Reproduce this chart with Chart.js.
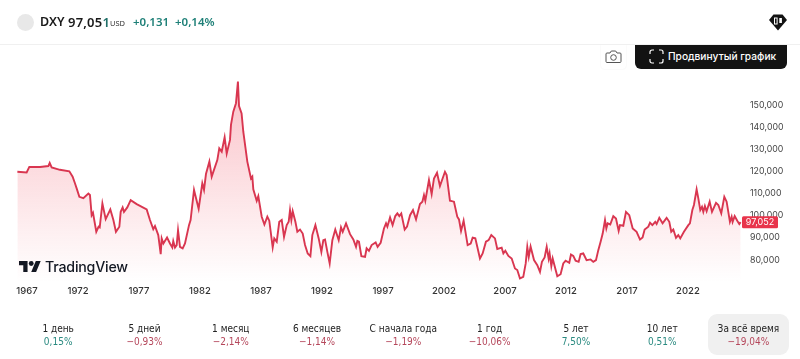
<!DOCTYPE html>
<html lang="ru"><head><meta charset="utf-8">
<script src="https://cdn.jsdelivr.net/npm/chart.js@4"></script>
<style>
html,body{margin:0;padding:0;background:#fff;width:800px;height:359px;overflow:hidden;font-family:"Noto Sans","DejaVu Sans",sans-serif;}
#wrap{position:relative;width:800px;height:359px;}
canvas{position:absolute;left:0;top:0;}
.abs{position:absolute;white-space:nowrap;}
#divider{left:0;top:44px;width:800px;height:1px;background:#f0f0f0;}
#circle{left:17px;top:14px;width:17px;height:17px;border-radius:50%;background:#e8e8e8;}
#sym{left:40px;top:13px;font-size:12.5px;font-weight:600;color:#1a1a1a;}
#price{left:68px;top:13px;font-size:13px;font-weight:600;color:#1a1a1a;letter-spacing:.2px;}
#price b{color:#1f6f68;font-weight:600;}
#cur{left:110px;top:18px;font-size:7.5px;color:#333;}
#chg{left:133px;top:14px;font-size:11.5px;font-weight:600;color:#1f8078;}
#chgp{left:175px;top:14px;font-size:11.5px;font-weight:600;color:#1f8078;}
#btn{left:635px;top:45px;width:152px;height:24px;background:#131313;border-radius:0 0 6px 6px;color:#fff;font:500 10.2px Inter,sans-serif;line-height:22px;}
#btn span{position:absolute;left:33px;}
#cam{left:601px;top:45px;width:25px;height:24px;border-radius:0 0 4px 4px;box-shadow:0 0 2px #eee;}
#tv{left:45px;top:258px;font:500 14.2px Inter,sans-serif;color:#131722;letter-spacing:-.2px;}
#stats{position:absolute;left:15px;top:314px;display:flex;}
.st{width:86.3px;height:41px;text-align:center;font-family:"DejaVu Sans Condensed","DejaVu Sans",sans-serif;font-stretch:condensed;font-size:10px;line-height:12px;color:#222;box-sizing:border-box;padding-top:9px;white-space:nowrap;}
.st div{margin-top:0.5px;}
.st.sel{background:#f0f0f0;border-radius:9px;width:81px;margin-left:2.5px;}
</style></head><body>
<div id="wrap">
<canvas id="c" width="800" height="359"></canvas>
<div class="abs" id="divider"></div>
<div class="abs" id="circle"></div>
<div class="abs" id="sym">DXY</div>
<div class="abs" id="price">97,05<b>1</b></div>
<div class="abs" id="cur">USD</div>
<div class="abs" id="chg">+0,131</div>
<div class="abs" id="chgp">+0,14%</div>
<svg class="abs" style="left:769px;top:14px" width="18" height="17" viewBox="0 0 18 17"><path d="M4.5 0.5H13.5L18 6 9 16.5 0 6Z" fill="#131313"/><rect x="5.5" y="4" width="2.6" height="6" fill="none" stroke="#fff" stroke-width="1"/><rect x="10.3" y="4" width="2.6" height="5" fill="#fff"/></svg>
<div class="abs" id="cam"><svg width="25" height="24" viewBox="0 0 25 24"><path d="M6 8h3l1.3-2h4.4L16 8h3a1 1 0 0 1 1 1v7.500a1 1 0 0 1-1 1H6a1 1 0 0 1-1-1V9a1 1 0 0 1 1-1z" fill="none" stroke="#555" stroke-width="1"/><circle cx="12.500" cy="12.500" r="2.800" fill="none" stroke="#555"/></svg></div>
<div class="abs" id="btn"><svg style="position:absolute;left:14px;top:4px" width="15" height="15" viewBox="0 0 15 15"><path d="M1 5V3a2 2 0 0 1 2-2h2M10 1h2a2 2 0 0 1 2 2v2M14 10v2a2 2 0 0 1-2 2h-2M5 14H3a2 2 0 0 1-2-2v-2" fill="none" stroke="#fff" stroke-width="1.200"/></svg><span>Продвинутый график</span></div>
<svg class="abs" style="left:19px;top:261px" width="22" height="11" viewBox="0 4 36 18"><path d="M14 22H7V11H0V4h14v18zM28 22h-8l7.500-18h8L28 22z" fill="#131722"/><circle cx="20" cy="8" r="4" fill="#131722"/></svg>
<div class="abs" id="tv">TradingView</div>
<div id="stats"></div>
</div>
<script>
const years=[1967.03,1967.79,1968.01,1968.89,1969.57,1969.68,1969.84,1970.52,1971.29,1971.56,1971.75,1971.89,1972.11,1972.44,1972.85,1972.98,1973.12,1973.23,1973.5,1973.69,1973.78,1974,1974.27,1974.65,1974.9,1975.11,1975.39,1975.5,1975.66,1975.77,1976.04,1976.32,1976.81,1977.63,1977.9,1978.17,1978.31,1978.58,1978.78,1978.86,1979,1979.3,1979.54,1979.73,1979.81,1979.95,1980.09,1980.2,1980.36,1980.58,1980.77,1981.1,1981.23,1981.51,1981.89,1982.19,1982.33,1982.49,1982.77,1982.96,1983.42,1983.58,1983.78,1984.02,1984.19,1984.46,1984.54,1984.73,1984.95,1985.11,1985.2,1985.41,1985.55,1985.88,1986.18,1986.29,1986.37,1986.65,1986.78,1987.06,1987.28,1987.52,1987.68,1987.96,1988.09,1988.29,1988.5,1988.7,1988.89,1989.11,1989.27,1989.38,1989.49,1989.6,1989.82,1989.98,1990.2,1990.42,1990.61,1990.83,1991.05,1991.21,1991.46,1991.73,1991.95,1992.11,1992.25,1992.44,1992.63,1992.85,1993.09,1993.37,1993.56,1993.7,1993.97,1994.3,1994.57,1994.79,1994.9,1995.03,1995.23,1995.53,1995.66,1995.85,1996.07,1996.4,1996.56,1996.81,1997.08,1997.25,1997.36,1997.58,1997.79,1998.01,1998.18,1998.34,1998.5,1998.78,1998.97,1999.22,1999.46,1999.71,2000.03,2000.23,2000.36,2000.47,2000.77,2000.99,2001.18,2001.43,2001.67,2002.08,2002.22,2002.49,2002.82,2003.09,2003.23,2003.4,2003.61,2003.94,2004.19,2004.35,2004.57,2004.73,2004.95,2005.17,2005.44,2005.66,2005.88,2006.18,2006.37,2006.73,2006.87,2007.03,2007.28,2007.55,2007.82,2008.01,2008.23,2008.5,2008.7,2008.83,2008.95,2009.1,2009.38,2009.65,2009.87,2010.03,2010.25,2010.42,2010.58,2010.66,2010.8,2010.91,2011.29,2011.56,2011.78,2011.97,2012.27,2012.41,2012.6,2012.79,2013.04,2013.2,2013.42,2013.69,2014.02,2014.24,2014.46,2014.65,2014.84,2015.01,2015.2,2015.31,2015.42,2015.63,2015.88,2016.1,2016.32,2016.43,2016.7,2016.92,2017.19,2017.47,2017.79,2018.07,2018.28,2018.45,2018.75,2018.89,2019.08,2019.32,2019.43,2019.65,2019.92,2020.25,2020.47,2020.63,2020.8,2021.02,2021.21,2021.37,2021.67,2022.03,2022.16,2022.36,2022.49,2022.71,2022.85,2023.01,2023.15,2023.26,2023.39,2023.53,2023.78,2023.97,2024.3,2024.49,2024.73,2024.98,2025.17,2025.44,2025.58,2025.66,2025.83,2026.04,2026.21,2026.32];
const values=[119.8,119.5,122,122,122.4,123.8,121.8,120.7,120,117.6,114.6,112.3,108.5,107.9,110,109.3,100.2,101.3,92.7,95,94.7,105.5,98.4,102.8,98,92.7,95,101.7,103.7,101.7,103.7,107,105.2,102.8,98,93.9,95.3,91.2,82.6,89.7,87.4,90.1,87.4,85.6,88.5,85.6,86.7,93.4,85.9,85.2,87.4,95.7,98,111.6,103.1,114.6,111.6,118.8,124.4,117.6,125.1,130.4,128.9,135.4,128.1,134.2,141,147,150.8,160.6,149.5,146.2,137.9,124.4,116.8,117.6,111.9,106.7,108.8,99.5,96,99.5,97.7,85.6,89.7,88.2,97.2,98,90.4,95.7,97.2,102.5,98,102,97.2,92.7,93.7,91.9,86.7,82.9,81.7,91.2,95.7,89.7,83.6,88.9,89.2,83.6,78.4,88.9,93.7,88.9,94.7,92.7,96.5,91.6,89.2,85.9,88.6,88.2,81.7,81.4,85.2,84.1,86.7,87.9,85.9,87.7,94.2,96.5,95,99.2,95.7,99.8,101,99.8,101,93.7,95,100.2,102.5,98.3,105.2,106.3,109.3,106.7,116.1,109.7,116.8,119.4,113.4,119.8,118.3,106.7,106.3,99.5,98.3,93.1,97.7,86.7,87.4,90,89.7,85.9,80.6,82.9,88.2,88.9,91.2,89.7,84.9,85.5,82.9,84.1,81.8,80.6,76.1,75.4,71.6,72.3,78.4,85.9,81.4,86,79.9,77.6,74.6,79.1,81.1,85.9,80.6,82.9,77.2,80.6,72.6,73.5,78.4,79.6,78.7,82.4,81.8,79.6,79.1,82.6,82.9,79.9,80.2,79.1,79.9,84.4,88.2,91.9,98,94.2,96.5,96,99.8,98.7,93.1,95.7,95.4,101.7,100.2,94.2,92.7,89.2,90.1,93.7,95,96.8,95.7,97.2,96.2,99,96.5,99,97.2,92.7,93.7,90,91.2,89.7,92.7,95.7,96.5,102.5,104.8,111.9,107.8,102.5,104,101.7,104.3,102,106.3,101.7,105.8,104.8,101,108.5,106.3,97.2,99.5,97.2,99.8,97.7,96.2,97.05];
const yTicks=[80,90,100,110,120,130,140,150];
const xTickYears=[1967.82,1972,1977,1982,1987,1992,1997,2002,2007,2012,2017,2022];
const xTickLabels=['1967','1972','1977','1982','1987','1992','1997','2002','2007','2012','2017','2022'];
const lastLabel='97,052';
const periods=['1 день','5 дней','1 месяц','6 месяцев','С начала года','1 год','5 лет','10 лет','За всё время'];
const changes=['0,15%','−0,93%','−2,14%','−1,14%','−1,19%','−10,06%','7,50%','0,51%','−19,04%'];

const stats=document.getElementById('stats');
periods.forEach((p,i)=>{
  const d=document.createElement('div');
  d.className='st'+(i===periods.length-1?' sel':'');
  const v=document.createElement('div');
  v.textContent=changes[i];
  v.style.color=changes[i][0]==='−'?'#b5475b':'#2a8a80';
  d.textContent=p;
  d.appendChild(v);
  stats.appendChild(d);
});

const priceTag={id:'priceTag',afterDraw(ch){
  const y=ch.scales.y.getPixelForValue(values[values.length-1]);
  const a=ch.chartArea,c=ch.ctx;
  c.save();
  c.fillStyle='#e8344b';
  c.beginPath();c.roundRect(a.right,y-6,36,12,1.500);c.fill();
  c.fillStyle='#fff';c.font='9px Inter, sans-serif';c.textAlign='center';c.textBaseline='middle';
  c.fillText(lastLabel,a.right+18,y+.5);
  c.restore();
}};

new Chart(document.getElementById('c'),{
  type:'line',
  data:{datasets:[{
    data:years.map((x,i)=>({x,y:values[i]})),
    borderColor:'#d93650',borderWidth:1.9,pointRadius:0,tension:0,
    fill:'start',
    backgroundColor(ctx){
      const a=ctx.chart.chartArea; if(!a) return 'transparent';
      const g=ctx.chart.ctx.createLinearGradient(0,a.top+35,0,a.bottom);
      g.addColorStop(0,'rgba(240,60,80,.32)');
      g.addColorStop(1,'rgba(240,60,80,0)');
      return g;
    }
  }]},
  options:{
    responsive:false,animation:false,parsing:false,
    layout:{padding:{left:17,top:45,right:0,bottom:0}},
    plugins:{legend:{display:false},tooltip:{enabled:false}},
    scales:{
      x:{type:'linear',min:1967,max:2026.43,border:{display:false},grid:{display:false,drawTicks:false},
        afterBuildTicks(s){s.ticks=xTickYears.map(value=>({value}));},
        afterFit(s){s.height=77;},
        ticks:{autoSkip:false,maxRotation:0,padding:3,color:'#333',font:{size:9.5,family:'Inter, sans-serif',weight:'500'},
          callback(v){return xTickLabels[xTickYears.indexOf(v)];}}},
      y:{position:'right',min:70,max:177.1,border:{display:false},grid:{display:false,drawTicks:false},
        afterBuildTicks(s){s.ticks=yTicks.map(value=>({value}));},
        afterFit(s){s.width=58;},
        ticks:{padding:8,color:'#444',font:{size:8.8,family:'Inter, sans-serif'},
          callback(v){return v+',000';}}}
    }
  },
  plugins:[priceTag]
});
</script>
</body></html>
